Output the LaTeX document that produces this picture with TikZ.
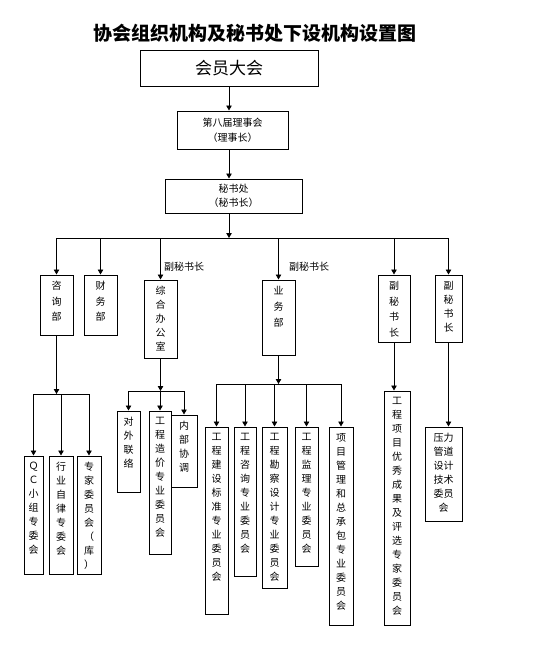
\documentclass[tikz,border=0pt]{standalone}
\usepackage{fontspec}
\newfontfamily\cjk{Noto Sans CJK SC}
\usetikzlibrary{arrows.meta}
\def\stkA#1{\ifx#1\relax\else#1\par\expandafter\stkA\fi}
\newcommand\vt[3][14pt]{\parbox[c][#2][t]{10pt}{\centering\fontsize{10pt}{#1}\selectfont\parskip=0pt\vspace*{6.5pt}\stkA#3\relax}}
\begin{document}
\begin{tikzpicture}[x=1pt,y=-1pt,font=\cjk,
  box/.style={draw,line width=1pt,inner sep=0pt},
  arr/.style={line width=0.8pt,-{Triangle[width=5.5pt,length=5pt]}},
  ln/.style={line width=0.8pt},
  small/.style={font=\cjk\fontsize{10pt}{14pt}\selectfont}]
\useasboundingbox (0,0) rectangle (550,656);
% title
\node[font=\cjk\bfseries\fontsize{19pt}{19pt}\selectfont] (title) at (255,33) {协会组织机构及秘书处下设机构设置图};
% top chain
\node[box,minimum width=178pt,minimum height=36pt,font=\cjk\fontsize{17pt}{17pt}\selectfont] (hy) at (229,68) {会员大会};
\node[box,minimum width=111pt,minimum height=38pt,align=center,font=\cjk\fontsize{10pt}{15pt}\selectfont] (lsh) at (232.5,130) {第八届理事会\\（理事长）};
\node[box,minimum width=137pt,minimum height=34pt,align=center,font=\cjk\fontsize{10pt}{14pt}\selectfont] (msc) at (233.5,196) {秘书处\\（秘书长）};
% level 2
\node[box,minimum width=33pt] (zx) at (56.5,305) {\vt[15.5pt]{60pt}{咨询部}};
\node[box,minimum width=33pt] (cw) at (100.5,305) {\vt[15.5pt]{60pt}{财务部}};
\node[box,minimum width=33pt] (zh) at (160.5,319) {\vt{78pt}{综合办公室}};
\node[box,minimum width=33pt] (yw) at (278.5,317.5) {\vt[16pt]{75pt}{业务部}};
\node[box,minimum width=32pt] (fs1) at (394,308.5) {\vt[15.5pt]{67pt}{副秘书长}};
\node[box,minimum width=27pt] (fs2) at (448.5,308.5) {\vt{67pt}{副秘书长}};
\node[small,anchor=west,inner sep=0pt] (lb1) at (164,267) {副秘书长};
\node[small,anchor=west,inner sep=0pt] (lb2) at (289,267) {副秘书长};
% under 咨询部
\node[box,minimum width=19pt] (qc) at (33.5,515) {\vt{118pt}{ＱＣ小组专委会}};
\node[box,minimum width=24pt] (hy2) at (61,515) {\vt{118pt}{行业自律专委会}};
\node[box,minimum width=24pt] (zj) at (89,515) {\vt{118pt}{专家委员会（库）}};
% under 综合办公室
\node[box,minimum width=23pt] (dw) at (128.5,451.5) {\vt{81pt}{对外联络}};
\node[box,minimum width=22pt] (gc) at (160,482.5) {\vt{143pt}{工程造价专业委员会}};
\node[box,minimum width=26pt] (nb) at (184,451) {\vt{72pt}{内部协调}};
% under 业务部
\node[box,minimum width=23pt] (b1) at (216.5,520.5) {\vt{187pt}{工程建设标准专业委员会}};
\node[box,minimum width=22pt] (b2) at (245,501.5) {\vt{149pt}{工程咨询专业委员会}};
\node[box,minimum width=25pt] (b3) at (274.5,507.5) {\vt{161pt}{工程勘察设计专业委员会}};
\node[box,minimum width=23pt] (b4) at (306.5,496.5) {\vt{139pt}{工程监理专业委员会}};
\node[box,minimum width=24pt] (b5) at (341,526) {\vt{198pt}{项目管理和总承包专业委员会}};
% under 副秘书长
\node[box,minimum width=26pt] (gx) at (397,508) {\vt{234pt}{工程项目优秀成果及评选专家委员会}};
\node[box,minimum width=37pt] (yl) at (443.5,474) {\parbox[c][94pt][t]{30pt}{\centering\fontsize{10pt}{14pt}\selectfont\parskip=0pt\vspace*{6.5pt}压力\\管道\\设计\\技术\\委员\\会\par}};
% connectors: top chain
\draw[arr] (hy.south) -- (hy.south |- lsh.north);
\draw[arr] (hy.south |- lsh.south) -- (hy.south |- msc.north);
\coordinate (bar) at (229,238);
\draw[arr] (hy.south |- msc.south) -- (bar);
\draw[ln] (bar -| zx.north) -- (bar -| fs2.north);
\foreach \n in {zx,cw,zh,yw,fs1,fs2} \draw[arr] (bar -| \n.north) -- (\n.north);
% 咨询部 branch
\coordinate (bar2) at (58,394);
\draw[arr] (zx.south) -- (zx.south |- bar2);
\draw[ln] (bar2 -| qc.north) -- (bar2 -| zj.north);
\foreach \n in {qc,hy2,zj} \draw[arr] (bar2 -| \n.north) -- (\n.north);
% 综合办公室 branch
\coordinate (bar3) at (161,391);
\draw[arr] (zh.south) -- (zh.south |- bar3);
\draw[ln] (bar3 -| dw.north) -- (bar3 -| nb.north);
\foreach \n in {dw,gc,nb} \draw[arr] (bar3 -| \n.north) -- (\n.north);
% 业务部 branch
\coordinate (bar4) at (278,384);
\draw[arr] (yw.south) -- (yw.south |- bar4);
\draw[ln] (bar4 -| b1.north) -- (bar4 -| b5.north);
\foreach \n in {b1,b2,b3,b4,b5} \draw[arr] (bar4 -| \n.north) -- (\n.north);
% 副秘书长 branches
\draw[arr] (fs1.south) -- (fs1.south |- gx.north);
\draw[arr] (fs2.south) -- (fs2.south |- yl.north);
\end{tikzpicture}
\end{document}
